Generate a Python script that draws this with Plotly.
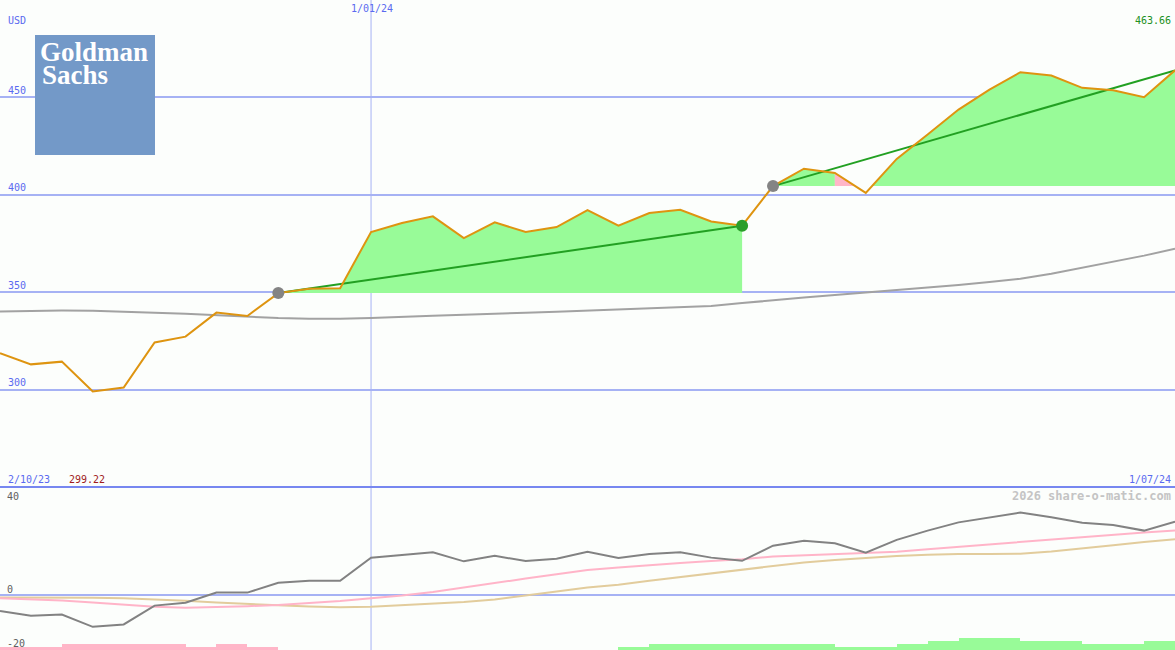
import pandas as pd
import plotly.graph_objects as go

# ---------------- data ----------------
dates = pd.date_range("2023-10-09", periods=39, freq="7D")

price = [318.8, 313.1, 314.5, 299.22, 301.2, 324.3, 327.3, 339.6, 337.9, 349.6,
         351.8, 352.1, 380.9, 385.5, 388.9, 377.8, 385.8, 380.9, 383.4, 392.1,
         384.1, 390.6, 392.3, 386.3, 384.1, 404.4, 413.3, 411.1, 400.9, 418.3,
         430.8, 443.6, 453.8, 462.7, 461.0, 454.7, 453.5, 449.9, 463.66]

ma_long = [340.2, 340.6, 340.7, 340.6, 340.2, 339.6, 339.0, 338.2, 337.5, 336.8,
           336.5, 336.4, 336.8, 337.5, 338.0, 338.5, 339.2, 339.6, 340.0, 340.6,
           341.0, 341.5, 342.2, 343.0, 344.5, 346.0, 347.3, 348.6, 349.8, 351.0,
           352.3, 353.7, 355.3, 357.0, 359.5, 362.5, 365.5, 368.8, 372.3]

osc_main = [-6.0, -7.8, -7.4, -12.0, -11.1, -4.0, -2.9, 0.9, 0.9, 4.6,
            5.4, 5.4, 14.1, 15.2, 16.1, 12.7, 14.8, 12.8, 13.7, 16.3,
            14.0, 15.5, 16.1, 14.1, 12.9, 18.6, 20.5, 19.5, 16.0, 20.8,
            24.3, 27.4, 29.3, 31.1, 29.3, 27.3, 26.4, 24.3, 27.7]

osc_fast = [-1.2, -1.6, -2.1, -2.8, -3.7, -4.4, -4.8, -4.6, -4.2, -3.8,
            -3.1, -2.3, -1.2, -0.2, 1.1, 2.8, 4.7, 6.2, 7.8, 9.4,
            10.4, 11.3, 12.1, 12.8, 13.5, 14.5, 15.0, 15.3, 15.8, 16.3,
            17.3, 18.2, 19.1, 20.1, 21.0, 22.0, 22.9, 23.6, 24.3]

osc_slow = [-0.9, -0.9, -1.0, -1.0, -1.2, -1.6, -2.2, -2.8, -3.4, -3.9,
            -4.3, -4.6, -4.4, -3.8, -3.2, -2.6, -1.7, -0.3, 1.3, 2.8,
            3.9, 5.4, 6.8, 8.1, 9.4, 11.0, 12.3, 13.2, 14.0, 14.7,
            15.2, 15.5, 15.5, 15.6, 16.4, 17.5, 18.8, 20.0, 21.0]

# one value per weekly interval (between consecutive dates)
hist_vals = [-1.1, -1.1, -2.3, -2.3, -2.3, -2.3, -1.1, -2.3, -1.1, 0,
             0, 0, 0, 0, 0, 0, 0, 0, 0, 0,
             1.1, 2.3, 2.3, 2.3, 2.3, 2.3, 2.3, 1.1, 1.1, 2.3,
             3.4, 4.5, 4.5, 3.4, 3.4, 2.3, 2.3, 3.4]

# trend segments (start index, end index)
segments = [(9, 24), (25, 38)]
signal_grey = [9, 25]
signal_green = [24]

y_ticks = [300, 350, 400, 450]

# ---------------- styling ----------------
W, H = 1175, 650
SPLIT = 487
BG = "#fcfefc"
GRID = "#a6b2f4"
BLUE_TXT = "#5a6af0"
FONT = "DejaVu Sans Mono"
GREEN_FILL = "#98fb98"
PINK_FILL = "#ffb6c8"

top_dom = [1 - SPLIT / H, 1]
bot_dom = [0, 1 - SPLIT / H]


def xd(f):
    return dates[0] + pd.Timedelta(days=7 * f)


def px(x):
    return x / W


def py(y):
    return 1 - y / H


fig = go.Figure()

# ---- area fills between price and signal level ----
for s, e in segments:
    base = price[s]
    groups = []
    for i in range(s, e):
        p0, p1 = price[i], price[i + 1]
        col = PINK_FILL if p1 < base else GREEN_FILL
        if p0 >= base and p1 >= base:
            pts = [(i, p0), (i + 1, p1)]
        elif p0 >= base > p1:
            f = (p0 - base) / (p0 - p1)
            pts = [(i, p0), (i + f, base), (i + 1, base)]
        elif p0 < base <= p1:
            f = (base - p0) / (p1 - p0)
            pts = [(i, base), (i + f, base), (i + 1, p1)]
        else:
            pts = [(i, base), (i + 1, base)]
        if groups and groups[-1][0] == col:
            groups[-1][1].extend(pts[1:])
        else:
            groups.append([col, pts])
    for col, pts in groups:
        xs = [p[0] for p in pts] + [pts[-1][0], pts[0][0], pts[0][0]]
        ys = [p[1] for p in pts] + [base, base, pts[0][1]]
        fig.add_trace(go.Scatter(x=[xd(v) for v in xs], y=ys, fill="toself",
                                 fillcolor=col, mode="lines", line=dict(width=0),
                                 hoverinfo="skip", xaxis="x", yaxis="y"))

# ---- long moving average ----
fig.add_trace(go.Scatter(x=dates, y=ma_long, mode="lines",
                         line=dict(color="#a2a2a2", width=2), xaxis="x", yaxis="y"))

# ---- trend lines ----
for s, e in segments:
    fig.add_trace(go.Scatter(x=[dates[s], dates[e]], y=[price[s], price[e]], mode="lines",
                             line=dict(color="#22a022", width=2), xaxis="x", yaxis="y"))

# ---- price ----
fig.add_trace(go.Scatter(x=dates, y=price, mode="lines",
                         line=dict(color="#de9410", width=2), xaxis="x", yaxis="y"))

# ---- signal markers ----
fig.add_trace(go.Scatter(x=[dates[i] for i in signal_grey], y=[price[i] for i in signal_grey],
                         mode="markers", marker=dict(color="#848484", size=12),
                         xaxis="x", yaxis="y"))
fig.add_trace(go.Scatter(x=[dates[i] for i in signal_green], y=[price[i] for i in signal_green],
                         mode="markers", marker=dict(color="#2a9e2a", size=12),
                         xaxis="x", yaxis="y"))

# ---- lower panel ----
BOT_MIN, BOT_MAX = -20.75, 40.75
fig.add_trace(go.Bar(x=[xd(i + 0.5) for i in range(len(hist_vals))],
                     y=[abs(v) for v in hist_vals], base=BOT_MIN,
                     width=7 * 24 * 3600 * 1000,
                     marker=dict(color=[GREEN_FILL if v > 0 else PINK_FILL for v in hist_vals],
                                 line=dict(width=0)),
                     xaxis="x2", yaxis="y2"))
fig.add_trace(go.Scatter(x=dates, y=osc_slow, mode="lines",
                         line=dict(color="#e2cc9c", width=2), xaxis="x2", yaxis="y2"))
fig.add_trace(go.Scatter(x=dates, y=osc_fast, mode="lines",
                         line=dict(color="#ffb4c8", width=2), xaxis="x2", yaxis="y2"))
fig.add_trace(go.Scatter(x=dates, y=osc_main, mode="lines",
                         line=dict(color="#828282", width=2), xaxis="x2", yaxis="y2"))

xrange = [dates[0], dates[-1]]
common_x = dict(range=xrange, type="date", showgrid=False, showticklabels=False,
                zeroline=False, showline=False, fixedrange=True)

shapes = [
    # logo box
    dict(type="rect", xref="paper", yref="paper", x0=px(35), x1=px(155),
         y0=py(155), y1=py(35), fillcolor="#7399c8", line=dict(width=0), layer="above"),
    # vertical date line
    dict(type="line", xref="x", yref="paper", x0=pd.Timestamp("2024-01-01"),
         x1=pd.Timestamp("2024-01-01"), y0=0, y1=1, line=dict(color=GRID, width=1),
         layer="below"),
    # separator
    dict(type="line", xref="paper", yref="paper", x0=0, x1=1, y0=py(SPLIT), y1=py(SPLIT),
         line=dict(color="#7787f0", width=2), layer="above"),
]


def label(text, x, y, anchor="left", color=BLUE_TXT, size=10, bold=False, family=FONT):
    return dict(text=f"<b>{text}</b>" if bold else text, xref="paper", yref="paper",
                x=px(x), y=py(y), xanchor=anchor, yanchor="middle", showarrow=False,
                font=dict(family=family, size=size, color=color))


annotations = [
    label("USD", 6, 20),
    label("1/01/24", 372, 9, anchor="center"),
    label("463.66", 1173, 21, anchor="right", color="#229022"),
    label("2/10/23", 6, 479),
    label("299.22", 67, 479, color="#a01c1c"),
    label("1/07/24", 1173, 479, anchor="right"),
    label("2026 share-o-matic.com", 1173, 496, anchor="right", color="#c4c4c4", size=12, bold=True),
    label("40", 5, 496, color="#606060"),
    label("0", 5, 589, color="#606060"),
    label("-20", 5, 643, color="#606060"),
    label("Goldman", 38, 52, color="white", size=27, bold=True, family="Liberation Serif"),
    label("Sachs", 40, 75, color="white", size=27, bold=True, family="Liberation Serif"),
]
for v in y_ticks:
    a = label(str(v), 6, 0)
    a.update(yref="y", y=v, yshift=7)
    annotations.append(a)

fig.update_layout(
    width=W, height=H, margin=dict(l=0, r=0, t=0, b=0),
    paper_bgcolor=BG, plot_bgcolor=BG, showlegend=False, hovermode=False,
    bargap=0,
    xaxis=dict(domain=[0, 1], anchor="y", **common_x),
    xaxis2=dict(domain=[0, 1], anchor="y2", **common_x),
    yaxis=dict(domain=top_dom, range=[250.3, 499.7], tickvals=y_ticks, showgrid=True,
               gridcolor=GRID, gridwidth=2, showticklabels=False, zeroline=False,
               fixedrange=True),
    yaxis2=dict(domain=bot_dom, range=[BOT_MIN, BOT_MAX], tickvals=[0], showgrid=True,
                gridcolor=GRID, gridwidth=2, showticklabels=False, zeroline=False,
                fixedrange=True),
    shapes=shapes, annotations=annotations,
)

fig.write_html("out.html", config={"displayModeBar": False},
               post_script="document.body.style.margin='0';document.body.style.overflow='hidden';")
